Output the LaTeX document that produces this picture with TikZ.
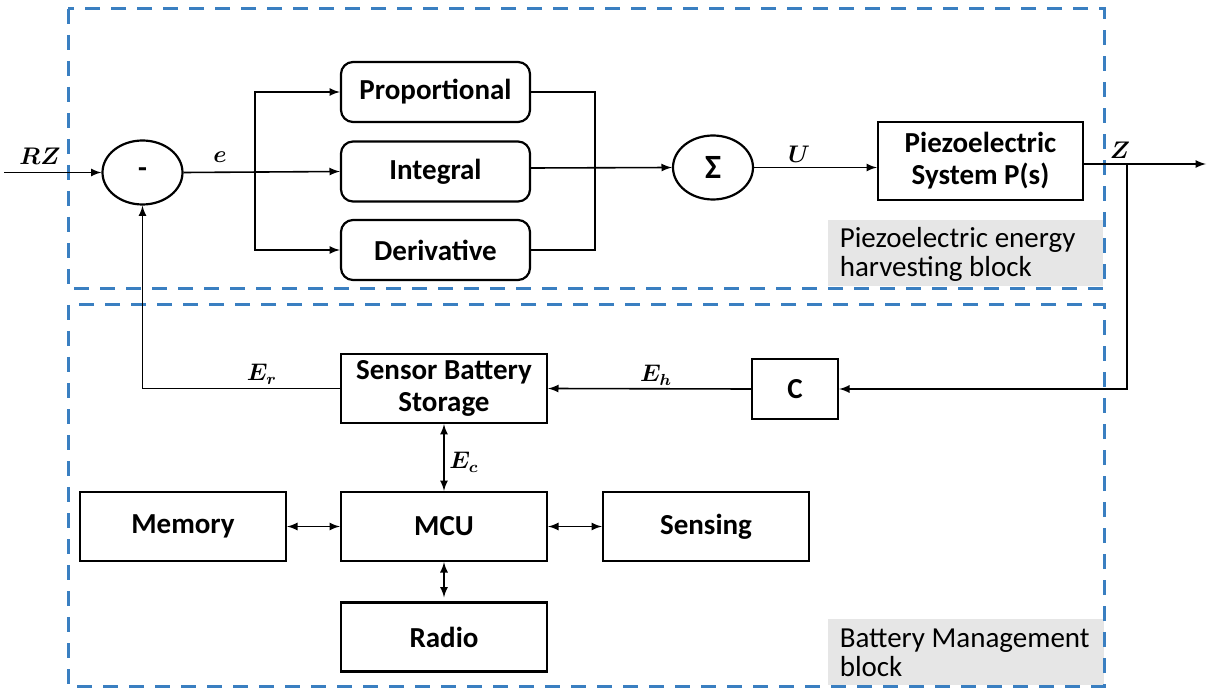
\documentclass[tikz,border=0pt]{standalone}
\usepackage{amsmath,amssymb,bm}
\usepackage{fontspec}
\setmainfont{Carlito}
\usetikzlibrary{shapes.geometric}
\definecolor{dashblue}{HTML}{3A7FC1}
\definecolor{tagfill}{HTML}{E6E6E6}

\begin{document}
\begin{tikzpicture}[x=0.5pt, y=-0.5pt, >=latex, line width=0.8pt,
		every node/.style={font=\fontsize{14.5}{16}\selectfont\bfseries, inner sep=0pt},
		blk/.style={draw, line width=1.1pt, minimum width=103pt, minimum height=34.5pt, align=center},
		rblk/.style={blk, rounded corners=6pt, minimum width=94.5pt, minimum height=30pt},
		sumc/.style={draw, ellipse, line width=1.1pt, minimum width=40pt, minimum height=32pt},
		zone/.style={draw=dashblue, line width=1.5pt, dash pattern=on 7.5pt off 5.5pt},
		tag/.style={font=\fontsize{14.5}{14.5}\selectfont, align=left, anchor=west},
		sig/.style={font=\fontsize{12}{14}\selectfont}]
		\useasboundingbox (0, 0) rectangle (1207, 690);
		
		% dashed blocks
		\fill[tagfill] (828, 220) rectangle (1103, 286);
		\fill[tagfill] (828, 619) rectangle (1104, 685);
		\draw[zone] (68, 9) rectangle (1104, 289);
		\draw[zone] (68, 305) rectangle (1104, 686);
		\node[tag] (tagpe) at (839, 254) {Piezoelectric energy\\harvesting block};
		\node[tag] (tagbm) at (839, 653) {Battery Management\\block};
		
		% controller
		\node[sumc] (sub) at (142.5, 172.5) {-};
		\node[rblk] (prop) at (435.5, 92) {Proportional};
		\node[rblk] (integ) at (435.5, 171.5) {Integral};
		\node[rblk] (deriv) at (435.5, 250) {Derivative};
		\node[sumc, font=\fontsize{17}{18}\selectfont\bfseries] (sigma) at (713, 167.5) {Σ};
		\node[blk, minimum width=102.5pt, minimum height=39pt] (piezo) at (980.5, 161) {Piezoelectric\\System P(s)};
		
		% battery management
		\node[blk] (sensor) at (444, 388.5) {Sensor Battery\\Storage};
		\node[blk, minimum width=43pt, minimum height=30pt] (cbox) at (795, 389) {C};
		\node[blk] (memory) at (183, 526.5) {Memory};
		\node[blk] (mcu) at (444, 526.5) {MCU};
		\node[blk] (sensing) at (706, 526.5) {Sensing};
		\node[blk] (radio) at (444, 637) {Radio};
		
		\coordinate (in) at (4, 172.5);
		\coordinate (br) at (255, 172);
		\coordinate (jn) at (595, 168);
		\coordinate (zb) at (1127, 164);
		\coordinate (out) at (1206, 164);
		
		\draw[->] (in) -- (sub.west);
		\draw[->] (sub.east) -- (integ.west);
		\draw[->] (br) |- (prop.west);
		\draw[->] (br) |- (deriv.west);
		\draw (prop.east) -| (jn);
		\draw (deriv.east) -| (jn);
		\draw[->] (integ.east |- jn) -- (sigma.west);
		\draw[->] (sigma.east) -- (sigma.east -| piezo.west);
		\draw[->] (piezo.east |- out) -- (out);
		\draw[->] (zb) |- (cbox.east);
		\draw[->] (cbox.west) -- (sensor.east);
		\draw[->] (sensor.west) -| (sub.south);
		\draw[<->] (sensor.south) -- (mcu.north);
		\draw[<->] (memory.east) -- (mcu.west);
		\draw[<->] (mcu.east) -- (sensing.west);
		\draw[<->, shorten >=2pt] (mcu.south) -- (radio.north);
		
		% signal labels
		\node[sig] at (40, 156) {$\boldsymbol{RZ}$};
		\node[sig] at (220, 157) {$\boldsymbol{e}$};
		\node[sig] at (799, 154) {$\boldsymbol{U}$};
		\node[sig] at (1120, 150) {$\boldsymbol{Z}$};
		\node[sig] at (262, 374) {$\boldsymbol{E_r}$};
		\node[sig] at (656, 375) {$\boldsymbol{E_h}$};
		\node[sig] at (464, 462) {$\boldsymbol{E_c}$};
	\end{tikzpicture}
\end{document}
